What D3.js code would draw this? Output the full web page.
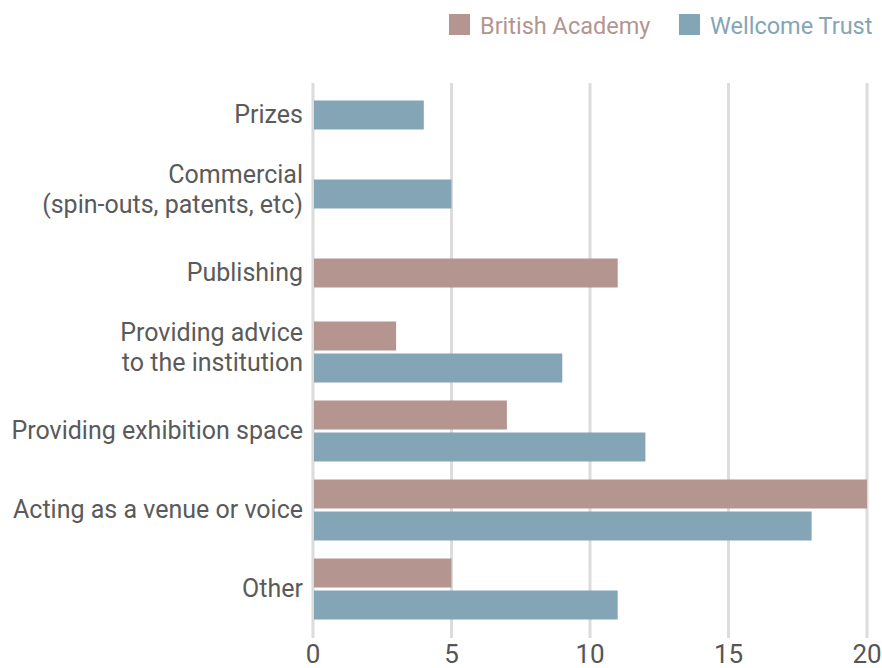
<!DOCTYPE html>
<html>
<head>
<meta charset="utf-8">
<script src="https://cdn.jsdelivr.net/npm/d3@7"></script>
<style>
  body { margin: 0; background: #fff; }
  text { font-family: "Roboto", sans-serif; }
</style>
</head>
<body>
<div id="chart"></div>
<script>
// categories, top to bottom (multi-line labels split with \n)
const categories = [
  'Prizes',
  'Commercial\n(spin-outs, patents, etc)',
  'Publishing',
  'Providing advice\nto the institution',
  'Providing exhibition space',
  'Acting as a venue or voice',
  'Other'
];
const britishAcademy = [null, null, 11, 3, 7, 20, 5];
const wellcomeTrust  = [4, 5, null, 9, 12, 18, 11];
const seriesNames = ['British Academy', 'Wellcome Trust'];
const xTicks = [0, 5, 10, 15, 20];

const colors = { 'British Academy': '#b5958f', 'Wellcome Trust': '#84a5b5' };

const W = 882, H = 668;
const margin = { left: 313, right: 15 };

const svg = d3.select('#chart').append('svg')
  .attr('width', W)
  .attr('height', H);

const x = d3.scaleLinear()
  .domain([0, 20])
  .range([margin.left, W - margin.right]);

const y = d3.scaleBand()
  .domain(categories)
  .range([75.5, 628.5])
  .paddingInner(0.228)
  .paddingOuter(0.114);

// grid lines
svg.append('g')
  .selectAll('line')
  .data(xTicks)
  .join('line')
    .attr('x1', d => x(d))
    .attr('x2', d => x(d))
    .attr('y1', 83)
    .attr('y2', 638)
    .attr('stroke', '#dcdcdc')
    .attr('stroke-width', 3);

// x tick labels
svg.append('g')
  .selectAll('text')
  .data(xTicks)
  .join('text')
    .attr('x', d => x(d))
    .attr('y', 663)
    .attr('text-anchor', 'middle')
    .attr('fill', '#555')
    .style('font-size', '26px')
    .text(d => d);

// bars
const gap = 3;
const barH = (y.bandwidth() - gap) / 2;
const rows = categories.map((c, i) => {
  const vals = [
    { series: 'British Academy', value: britishAcademy[i] },
    { series: 'Wellcome Trust', value: wellcomeTrust[i] }
  ].filter(d => d.value != null);
  const center = y(c) + y.bandwidth() / 2;
  return vals.map((d, j) => ({
    ...d,
    y: center + (j - (vals.length - 1) / 2) * (barH + gap) - barH / 2
  }));
}).flat();

svg.append('g')
  .selectAll('rect')
  .data(rows)
  .join('rect')
    .attr('x', x(0) + 1)
    .attr('y', d => d.y)
    .attr('width', d => x(d.value) - x(0) - 1)
    .attr('height', barH)
    .attr('fill', d => colors[d.series]);

// category labels
const labels = svg.append('g')
  .selectAll('text')
  .data(categories)
  .join('text')
    .attr('text-anchor', 'end')
    .attr('fill', '#5a5a5a')
    .style('font-size', '25px');

labels.each(function(c) {
  const lines = c.split('\n');
  const center = y(c) + y.bandwidth() / 2;
  const lh = 30;
  const first = center + 8 - (lines.length - 1) * lh / 2 - 4 * (lines.length - 1);
  d3.select(this).selectAll('tspan')
    .data(lines)
    .join('tspan')
      .attr('x', 303)
      .attr('y', (d, i) => first + i * lh)
      .text(d => d);
});

// legend
const legend = svg.append('g');
const legendX = [449, 679];
seriesNames.forEach((s, i) => {
  legend.append('rect')
    .attr('x', legendX[i])
    .attr('y', 14)
    .attr('width', 21)
    .attr('height', 21)
    .attr('fill', colors[s]);
  legend.append('text')
    .attr('x', legendX[i] + 31)
    .attr('y', 34)
    .attr('fill', colors[s])
    .style('font-size', '23.5px')
    .text(s);
});
</script>
</body>
</html>
